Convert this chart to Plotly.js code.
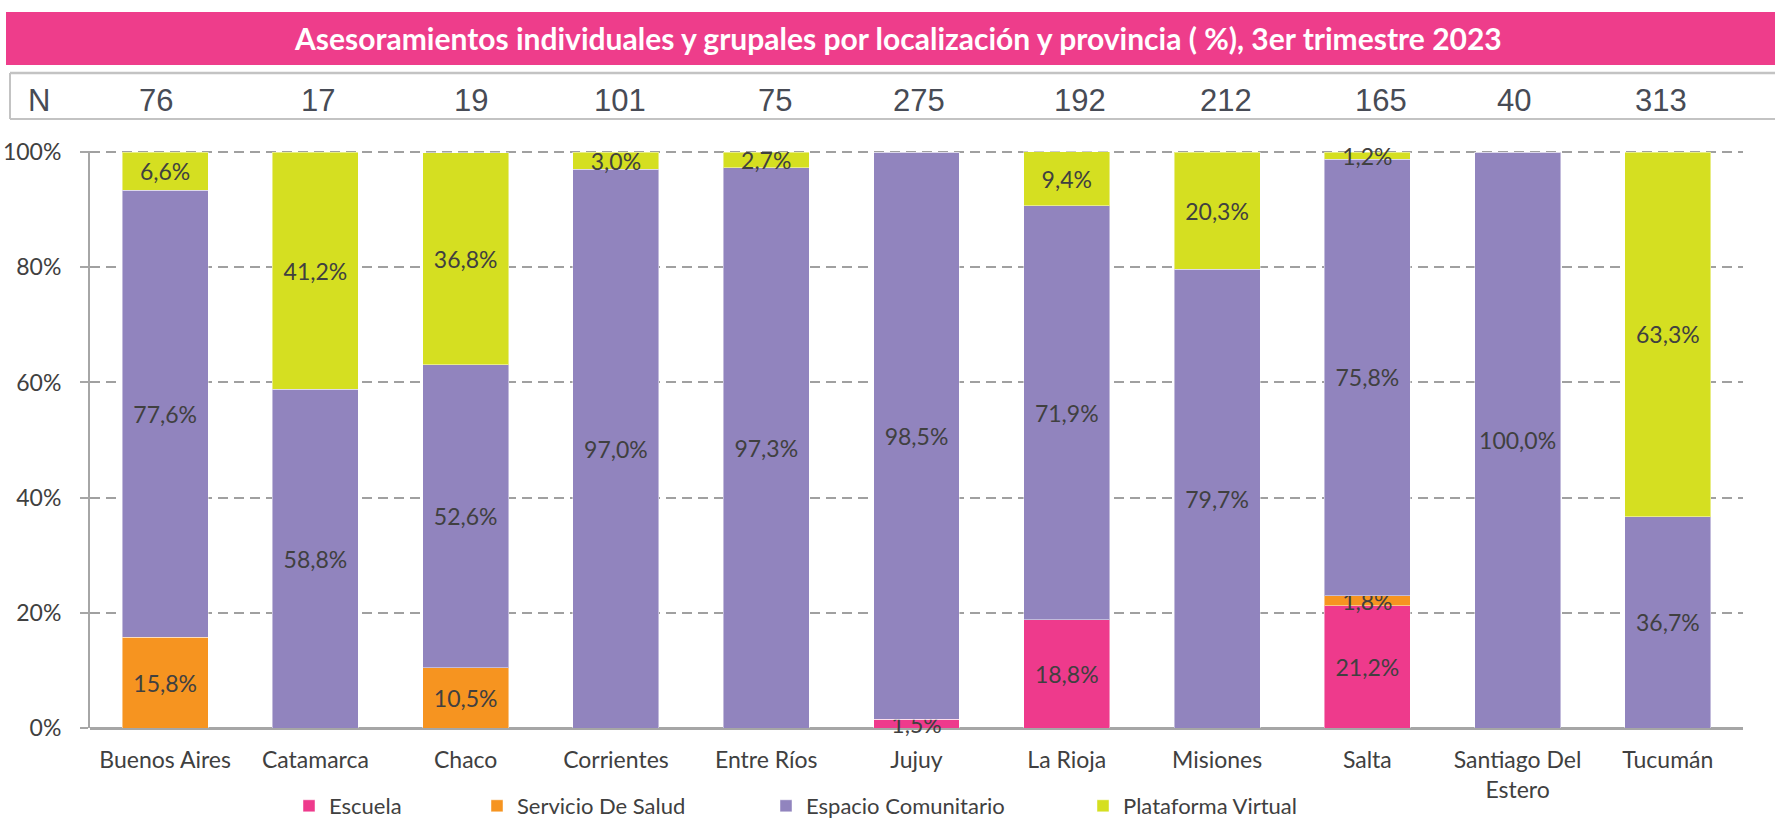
<!DOCTYPE html>
<html>
<head>
<meta charset="utf-8">
<script src="https://cdn.plot.ly/plotly-3.0.1.min.js"></script>
<style>html,body{margin:0;padding:0;background:#fff;}#chart{width:1775px;height:822px;}</style>
</head>
<body>
<div id="chart"></div>
<script>
const provincias = ["Buenos Aires","Catamarca","Chaco","Corrientes","Entre Ríos","Jujuy","La Rioja","Misiones","Salta","Santiago Del<br>Estero","Tucumán"];
const nValores = [76,17,19,101,75,275,192,212,165,40,313];
const escuela = [0,0,0,0,0,1.5,18.8,0,21.2,0,0];
const servicioSalud = [15.8,0,10.5,0,0,0,0,0,1.8,0,0];
const espacioComunitario = [77.6,58.8,52.6,97.0,97.3,98.5,71.9,79.7,75.8,100.0,36.7];
const plataformaVirtual = [6.6,41.2,36.8,3.0,2.7,0,9.4,20.3,1.2,0,63.3];
const yTicks = [0,20,40,60,80,100];
const yTickLabels = ["0%","20%","40%","60%","80%","100%"];
const titulo = "Asesoramientos individuales y grupales por localización y provincia ( %), 3er trimestre 2023";

const FONT = "Lato, 'Liberation Sans', sans-serif";
const NFONT = "'Liberation Sans Narrow', 'Liberation Sans', Arial, sans-serif";
const TXT = "#404040";

function fmt(v){ return v > 0 ? v.toFixed(1).replace(".", ",") + "%" : ""; }

function serie(name, vals, color, legendId){
  return {
    type: "bar", name: name, x: provincias, y: vals,
    text: vals.map(fmt), textposition: "inside", insidetextanchor: "middle",
    constraintext: "none", cliponaxis: false,
    textfont: {family: FONT, size: 23, color: TXT},
    marker: {color: color, line: {color: "rgba(255,255,255,0.45)", width: 1}},
    hoverinfo: "name+y", legend: legendId
  };
}

const data = [
  serie("Escuela", escuela, "#EE3A8C", "legend"),
  serie("Servicio De Salud", servicioSalud, "#F69420", "legend2"),
  serie("Espacio Comunitario", espacioComunitario, "#9184BE", "legend3"),
  serie("Plataforma Virtual", plataformaVirtual, "#D5DF21", "legend4")
];

const W = 1775, H = 822, L = 90, R = 32, T = 151, B = 94;
const PW = W - L - R, PH = H - T - B;
const px = x => (x - L) / PW;
const py = y => (H - B - y) / PH;

function leg(xpx){
  return {orientation: "h", xref: "paper", yref: "container",
    x: px(xpx), xanchor: "left", y: (H - 806) / H, yanchor: "middle",
    font: {family: FONT, size: 22, color: TXT}, bgcolor: "rgba(0,0,0,0)",
    itemwidth: 30, traceorder: "normal"};
}

// horizontal offsets (px) of the N-table columns relative to the bar centres
const nColShift = [-9, 3, 5, 4, 9, 2, 13, 9, 14, -4, -7];

const annotations = [
  {xref: "paper", yref: "paper", x: px(898), y: py(38), text: "<b>" + titulo + "</b>",
   showarrow: false, font: {family: FONT, size: 30, color: "#ffffff"}, xanchor: "center", yanchor: "middle"},
  {xref: "paper", yref: "paper", x: px(39), y: py(100), text: "N", showarrow: false,
   font: {family: NFONT, size: 31, color: "#474B55"}, xanchor: "center", yanchor: "middle"}
];
nValores.forEach((n, i) => {
  annotations.push({xref: "x", yref: "paper", x: provincias[i], y: py(100), text: String(n),
    xshift: nColShift[i], showarrow: false, font: {family: NFONT, size: 31, color: "#474B55"},
    xanchor: "center", yanchor: "middle"});
});

const shapes = [
  {type: "rect", xref: "paper", yref: "paper", x0: px(6), x1: px(1775), y0: py(65), y1: py(12),
   fillcolor: "#EE3D8B", line: {width: 0}, layer: "below"},
  {type: "line", xref: "paper", yref: "paper", x0: px(10), x1: px(1775), y0: py(73), y1: py(73),
   line: {color: "#C3C3C3", width: 2.5}},
  {type: "line", xref: "paper", yref: "paper", x0: px(10), x1: px(1775), y0: py(119), y1: py(119),
   line: {color: "#C3C3C3", width: 2}},
  {type: "line", xref: "paper", yref: "paper", x0: px(10), x1: px(10), y0: py(73), y1: py(119),
   line: {color: "#C3C3C3", width: 2}}
];

const layout = {
  width: W, height: H, margin: {l: L, r: R, t: T, b: B, pad: 0},
  paper_bgcolor: "#ffffff", plot_bgcolor: "#ffffff",
  barmode: "stack", bargap: 0.428,
  showlegend: true,
  legend: leg(289), legend2: leg(477), legend3: leg(766), legend4: leg(1083),
  uniformtext: {mode: "show", minsize: 23},
  xaxis: {type: "category", tickfont: {family: FONT, size: 23, color: TXT},
    showline: false, ticks: "", showgrid: false, fixedrange: true, automargin: false,
    ticklabelstandoff: 16},
  yaxis: {range: [0, 100.2], tickvals: yTicks, ticktext: yTickLabels,
    tickfont: {family: FONT, size: 23, color: TXT},
    showgrid: true, gridcolor: "#A0A0A0", griddash: "10px,6px", gridwidth: 2,
    showline: true, linecolor: "#A6A6A6", linewidth: 2, ticks: "outside", ticklen: 8,
    tickcolor: "#A6A6A6", tickwidth: 2, zeroline: true, zerolinecolor: "#A6A6A6", zerolinewidth: 3,
    ticklabelstandoff: 14, fixedrange: true, automargin: false},
  annotations: annotations, shapes: shapes
};

Plotly.newPlot("chart", data, layout, {displayModeBar: false, staticPlot: true});
</script>
</body>
</html>
